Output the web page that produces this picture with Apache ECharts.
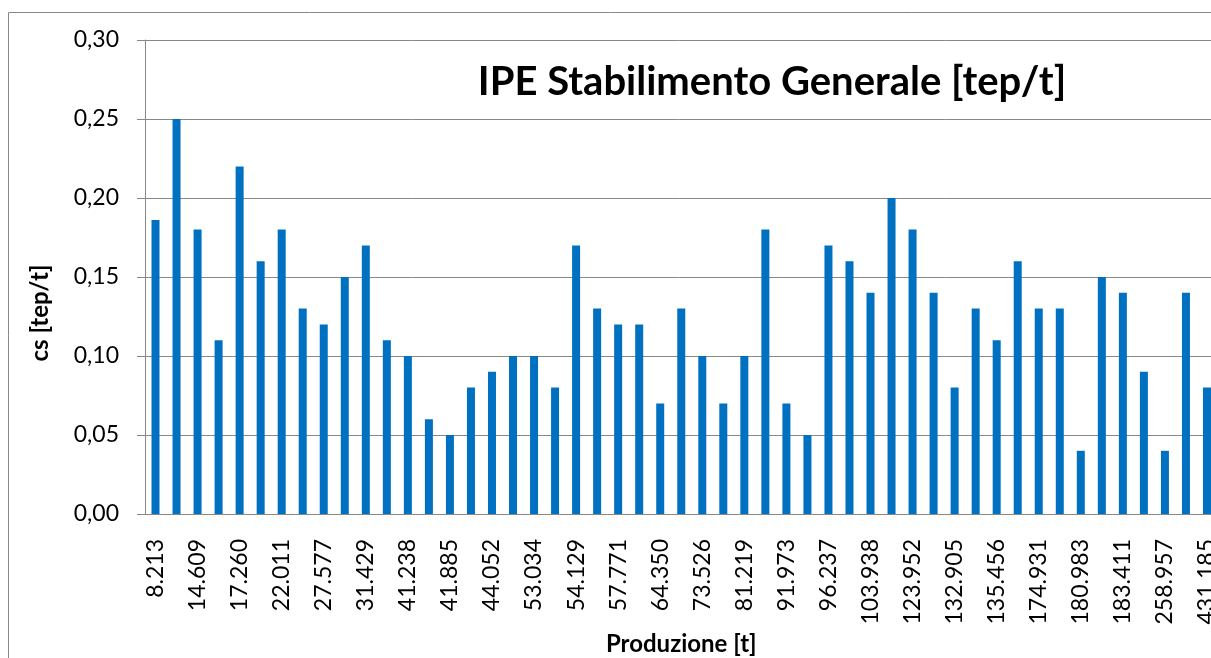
<!DOCTYPE html>
<html>
<head>
<meta charset="utf-8">
<script src="https://cdn.jsdelivr.net/npm/echarts@6/dist/echarts.min.js"></script>
<style>
html, body { margin: 0; padding: 0; background: #fff; }
#main { width: 1211px; height: 658px; }
</style>
</head>
<body>
<div id="main"></div>
<script>
// produzione labels, one every second bar
var tickLabels = ['8.213', '14.609', '17.260', '22.011', '27.577', '31.429', '41.238',
  '41.885', '44.052', '53.034', '54.129', '57.771', '64.350', '73.526', '81.219',
  '91.973', '96.237', '103.938', '123.952', '132.905', '135.456', '174.931',
  '180.983', '183.411', '258.957', '431.185'];

var values = [0.186, 0.25, 0.18, 0.11, 0.22, 0.16, 0.18, 0.13, 0.12, 0.15,
  0.17, 0.11, 0.10, 0.06, 0.05, 0.08, 0.09, 0.10, 0.10, 0.08,
  0.17, 0.13, 0.12, 0.12, 0.07, 0.13, 0.10, 0.07, 0.10, 0.18,
  0.07, 0.05, 0.17, 0.16, 0.14, 0.20, 0.18, 0.14, 0.08, 0.13,
  0.11, 0.16, 0.13, 0.13, 0.04, 0.15, 0.14, 0.09, 0.04, 0.14, 0.08];

var yTicks = [0, 0.05, 0.10, 0.15, 0.20, 0.25, 0.30];

var categories = values.map(function (v, i) {
  return i % 2 === 0 ? tickLabels[i / 2] : '';
});

var grey = '#888888';
var font = 'Lato';

var option = {
  animation: false,
  backgroundColor: '#fff',
  title: {
    text: 'IPE Stabilimento Generale [tep/t]',
    left: 767,
    top: 77,
    textAlign: 'center',
    textVerticalAlign: 'middle',
    textStyle: { fontFamily: font, fontWeight: 'bold', fontSize: 40, color: '#000' }
  },
  graphic: [{
    type: 'rect',
    left: 6,
    top: 10,
    shape: { width: 1300, height: 700 },
    style: { fill: 'none', stroke: grey, lineWidth: 1 },
    silent: true
  }],
  grid: { left: 145, top: 40, right: -6.5, bottom: 144, outerBoundsMode: 'none' },
  xAxis: {
    type: 'category',
    data: categories,
    name: 'Produzione [t]',
    nameLocation: 'middle',
    nameGap: 114,
    nameTextStyle: { fontFamily: font, fontWeight: 'bold', fontSize: 24, color: '#000' },
    axisLine: { lineStyle: { color: grey, width: 1 } },
    axisTick: { interval: 0, length: 8, lineStyle: { color: grey } },
    axisLabel: { interval: 0, rotate: 90, margin: 25, fontFamily: font, fontSize: 23, color: '#000' }
  },
  yAxis: {
    type: 'value',
    min: yTicks[0],
    max: yTicks[yTicks.length - 1],
    interval: 0.05,
    name: 'cs [tep/t]',
    nameLocation: 'middle',
    nameGap: 93,
    nameRotate: 90,
    nameTextStyle: { fontFamily: font, fontWeight: 'bold', fontSize: 24, color: '#000', padding: [0, 72, 0, 0] },
    axisLine: { show: true, lineStyle: { color: grey, width: 1 } },
    axisTick: { show: true, length: 8, lineStyle: { color: grey } },
    splitLine: { lineStyle: { color: grey, width: 1 } },
    axisLabel: {
      margin: 26,
      fontFamily: font,
      fontSize: 23,
      color: '#000',
      formatter: function (v) { return v.toFixed(2).replace('.', ','); }
    }
  },
  series: [{
    type: 'bar',
    data: values,
    barWidth: 8,
    itemStyle: { color: '#0070C0' }
  }]
};

var myChart = echarts.init(document.getElementById('main'));
myChart.setOption(option);
</script>
</body>
</html>
